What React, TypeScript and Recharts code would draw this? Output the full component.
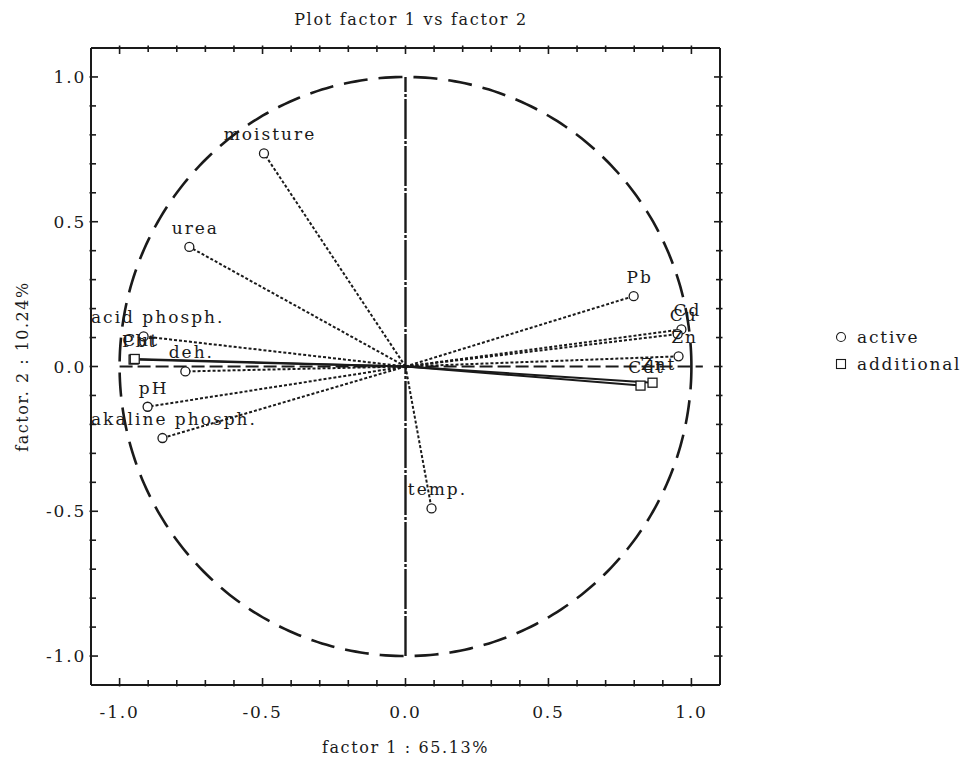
import React from 'react';
import { ScatterChart, Scatter, XAxis, YAxis, Legend, Label } from 'recharts';

// ---------- data ----------
const activeNames = ['moisture', 'urea', 'acid phosph.', 'deh.', 'pH', 'akaline phosph.', 'temp.', 'Pb', 'Cd', 'Cu', 'Zn'];
const activeX = [-0.495, -0.756, -0.916, -0.770, -0.902, -0.850, 0.091, 0.798, 0.965, 0.952, 0.955];
const activeY = [0.736, 0.413, 0.104, -0.017, -0.139, -0.247, -0.490, 0.243, 0.128, 0.112, 0.035];

const additionalNames = ['Pbt', 'Cut', 'Cdt', 'Znt'];
const additionalX = [-0.951, -0.947, 0.822, 0.864];
const additionalY = [0.024, 0.026, -0.066, -0.056];

const tickValues = [-1.0, -0.9, -0.8, -0.7, -0.6, -0.5, -0.4, -0.3, -0.2, -0.1, 0.0, 0.1, 0.2, 0.3, 0.4, 0.5, 0.6, 0.7, 0.8, 0.9, 1.0];
const axisDomain = [-1.1, 1.1];

const titleText = 'Plot factor 1 vs factor 2';
const xLabelText = 'factor 1 : 65.13%';
const yLabelText = 'factor. 2 : 10.24%';

// ---------- derived tables ----------
const activeData = activeNames.map((name, i) => ({ name, x: activeX[i], y: activeY[i] }));
const additionalData = additionalNames.map((name, i) => ({ name, x: additionalX[i], y: additionalY[i] }));
// correlation (unit) circle guide
const unitCircle = Array.from({ length: 361 }, (_, i) => {
  const a = (i / 360) * 2 * Math.PI;
  return { x: Math.cos(a), y: Math.sin(a) };
});

// ---------- layout / style ----------
const W = 965;
const H = 762;
const MARGIN = { top: 47, right: 244, bottom: 37, left: 31 };
const Y_AXIS_W = 60;
const X_AXIS_H = 40;
const PLOT_LEFT = MARGIN.left + Y_AXIS_W;
const PLOT_RIGHT = W - MARGIN.right;
const PLOT_TOP = MARGIN.top;
const FONT = '"DejaVu Serif", "Liberation Serif", serif';
const INK = '#1a1a1a';
const LABEL_SIZE = 17;
const LABEL_SPACING = 2.0;

let measureCtx: CanvasRenderingContext2D | null = null;
const measure = (s: string) => {
  if (!measureCtx) measureCtx = document.createElement('canvas').getContext('2d');
  if (!measureCtx) return s.length * 10;
  measureCtx.font = `${LABEL_SIZE}px "DejaVu Serif"`;
  return measureCtx.measureText(s).width + s.length * LABEL_SPACING;
};

const isMajor = (v: number) => Math.abs(v * 2 - Math.round(v * 2)) < 1e-6;
const fmt = (v: number) => (Math.abs(v) < 1e-9 ? '0.0' : v.toFixed(1));

// bottom axis ticks (also mirrored onto the top frame edge)
const BottomTick = (p: any) => {
  const { x, y, payload } = p;
  const v = payload.value;
  const len = isMajor(v) ? 7 : 5;
  return (
    <g>
      <line x1={x} x2={x} y1={y + 1.5} y2={y - len} stroke={INK} strokeWidth={1.6} />
      <line x1={x} x2={x} y1={PLOT_TOP - 1.5} y2={PLOT_TOP + len} stroke={INK} strokeWidth={1.6} />
      {isMajor(v) && (
        <text x={x} y={y + 33} textAnchor="middle" fontFamily={FONT} fontSize={17} letterSpacing={1.8} fill={INK}>
          {fmt(v)}
        </text>
      )}
    </g>
  );
};
// left axis ticks (also mirrored onto the right frame edge)
const LeftTick = (p: any) => {
  const { x, y, payload } = p;
  const v = payload.value;
  const len = isMajor(v) ? 7 : 5;
  return (
    <g>
      <line x1={x - 1.5} x2={x + len} y1={y} y2={y} stroke={INK} strokeWidth={1.6} />
      <line x1={PLOT_RIGHT + 1.5} x2={PLOT_RIGHT - len} y1={y} y2={y} stroke={INK} strokeWidth={1.6} />
      {isMajor(v) && (
        <text x={x - 5} y={y + 6} textAnchor="end" fontFamily={FONT} fontSize={17} letterSpacing={1.8} fill={INK}>
          {fmt(v)}
        </text>
      )}
    </g>
  );
};

const labelFor = (name: string, cx: number, cy: number) => {
  const w = measure(name);
  let c = cx + 6;
  if (c - w / 2 < PLOT_LEFT) c = PLOT_LEFT + w / 2;
  if (c + w / 2 > PLOT_RIGHT) c = PLOT_RIGHT - w / 2;
  return (
    <text x={c} y={cy - 13} textAnchor="middle" fontFamily={FONT} fontSize={LABEL_SIZE} letterSpacing={LABEL_SPACING} fill={INK}>
      {name}
    </text>
  );
};

const ActiveShape = (p: any) => {
  const { cx, cy, payload } = p;
  return (
    <g>
      {labelFor(payload.name, cx, cy)}
      <circle cx={cx} cy={cy} r={4.5} fill="#fff" stroke={INK} strokeWidth={1.3} />
    </g>
  );
};
const AdditionalShape = (p: any) => {
  const { cx, cy, payload } = p;
  return (
    <g>
      {labelFor(payload.name, cx, cy)}
      <rect x={cx - 4.5} y={cy - 4.5} width={9} height={9} fill="#fff" stroke={INK} strokeWidth={1.3} />
    </g>
  );
};
const NoShape = () => <g />;

const LegendContent = (props: any) => {
  const items = (props.payload || []).filter((e: any) => e.value === 'active' || e.value === 'additional');
  return (
    <div style={{ fontFamily: FONT, fontSize: 17, color: INK, letterSpacing: 1.8, textAlign: 'left' }}>
      {items.map((e: any) => (
        <div key={e.value} style={{ display: 'flex', alignItems: 'center', height: 27 }}>
          <svg width={18} height={14}>
            {e.value === 'active' ? (
              <circle cx={9} cy={7} r={4.5} fill="#fff" stroke={INK} strokeWidth={1.1} />
            ) : (
              <rect x={4.5} y={2.5} width={9} height={9} fill="#fff" stroke={INK} strokeWidth={1.1} />
            )}
          </svg>
          <span style={{ marginLeft: 7 }}>{e.value}</span>
        </div>
      ))}
    </div>
  );
};

export default function App() {
  return (
    <div style={{ position: 'absolute', left: 0, top: 0, width: W, height: H, background: '#fff' }}>
      <div
        style={{
          position: 'absolute', left: 0, top: 10, width: 822, textAlign: 'center',
          fontFamily: FONT, fontSize: 16, letterSpacing: 1.7, color: INK,
        }}
      >
        {titleText}
      </div>
      <ScatterChart width={W} height={H} margin={MARGIN}>
        <XAxis
          xAxisId={0} type="number" dataKey="x" domain={axisDomain} allowDataOverflow ticks={tickValues}
          interval={0} tickSize={0} tickMargin={0} tickLine={false} tick={<BottomTick />}
          height={X_AXIS_H} axisLine={{ stroke: INK, strokeWidth: 2 }}
        >
          <Label
            content={(lp: any) => {
              const vb = lp.viewBox;
              return (
                <text x={vb.x + vb.width / 2} y={vb.y + 68} textAnchor="middle" fontFamily={FONT} fontSize={16} letterSpacing={1.6} fill={INK}>
                  {xLabelText}
                </text>
              );
            }}
          />
        </XAxis>
        <XAxis
          xAxisId="top" orientation="top" type="number" dataKey="x" domain={axisDomain} allowDataOverflow
          tick={false} tickLine={false} height={1} axisLine={{ stroke: INK, strokeWidth: 2 }}
        />
        <YAxis
          yAxisId={0} type="number" dataKey="y" domain={axisDomain} allowDataOverflow ticks={tickValues}
          interval={0} tickSize={0} tickMargin={0} tickLine={false} tick={<LeftTick />}
          width={Y_AXIS_W} axisLine={{ stroke: INK, strokeWidth: 2 }}
        >
          <Label
            content={(lp: any) => {
              const vb = lp.viewBox;
              const x = vb.x - 9;
              const y = vb.y + vb.height / 2;
              return (
                <text x={x} y={y} transform={`rotate(-90, ${x}, ${y})`} textAnchor="middle" dominantBaseline="central" fontFamily={FONT} fontSize={16} letterSpacing={1.5} fill={INK}>
                  {yLabelText}
                </text>
              );
            }}
          />
        </YAxis>
        <YAxis
          yAxisId="right" orientation="right" type="number" dataKey="y" domain={axisDomain} allowDataOverflow
          tick={false} tickLine={false} width={1} axisLine={{ stroke: INK, strokeWidth: 2 }}
        />

        {/* axes through origin */}
        <Scatter
          data={[{ x: -1.0, y: 0 }, { x: 1.04, y: 0 }]}
          line={{ stroke: INK, strokeWidth: 2, strokeDasharray: '13 5' }}
          shape={<NoShape />} legendType="none" isAnimationActive={false}
        />
        <Scatter
          data={[{ x: 0, y: -1.0 }, { x: 0, y: 1.0 }]}
          line={{ stroke: INK, strokeWidth: 2.4, strokeDasharray: '40 2 3 2' }}
          shape={<NoShape />} legendType="none" isAnimationActive={false}
        />
        {/* hidden anchor so the top / right frame axes share the same scale */}
        <Scatter
          xAxisId="top" yAxisId="right" data={[{ x: 0, y: 0 }]}
          shape={<NoShape />} legendType="none" isAnimationActive={false}
        />

        {/* correlation circle */}
        <Scatter
          data={unitCircle} line={{ stroke: INK, strokeWidth: 2.6, strokeDasharray: '24 11' }}
          lineType="joint" shape={<NoShape />} legendType="none" isAnimationActive={false}
        />

        {/* vectors from origin */}
        {activeData.map((d) => (
          <Scatter
            key={'va-' + d.name}
            data={[{ x: 0, y: 0 }, { x: d.x, y: d.y }]}
            line={{ stroke: INK, strokeWidth: 2, strokeDasharray: '3 2' }}
            shape={<NoShape />} legendType="none" isAnimationActive={false}
          />
        ))}
        {additionalData.map((d) => (
          <Scatter
            key={'vb-' + d.name}
            data={[{ x: 0, y: 0 }, { x: d.x, y: d.y }]}
            line={{ stroke: INK, strokeWidth: 2 }}
            shape={<NoShape />} legendType="none" isAnimationActive={false}
          />
        ))}

        <Scatter name="active" data={activeData} shape={<ActiveShape />} legendType="circle" isAnimationActive={false} />
        <Scatter name="additional" data={additionalData} shape={<AdditionalShape />} legendType="square" isAnimationActive={false} />

        <Legend
          layout="horizontal" verticalAlign="middle" align="center"
          wrapperStyle={{ left: 832, top: 323, width: 133, height: 60 }}
          content={<LegendContent />}
        />
      </ScatterChart>
    </div>
  );
}
